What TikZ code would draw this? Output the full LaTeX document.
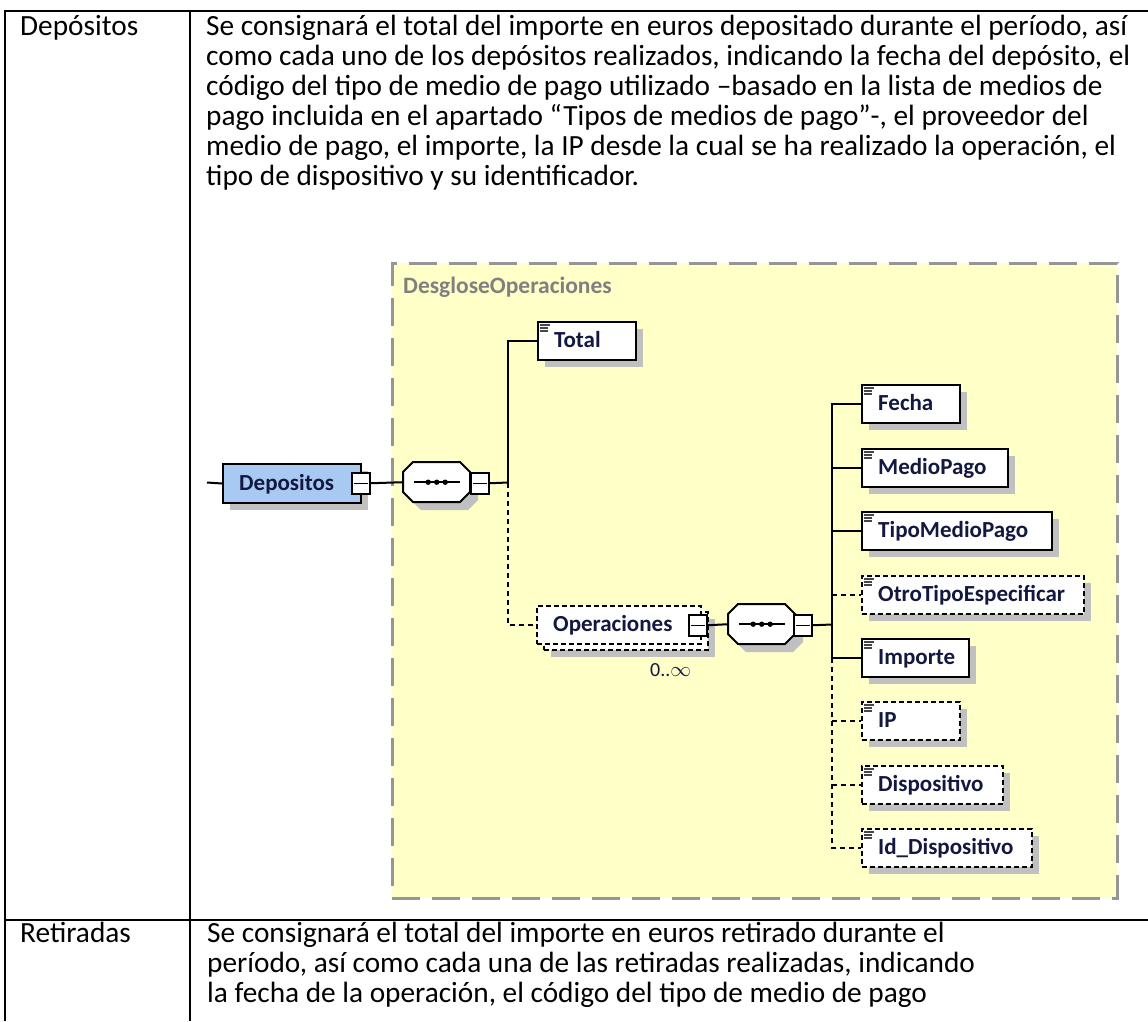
\documentclass[tikz,border=0pt]{standalone}
\usepackage{fontspec}
\setmainfont{Carlito}
\definecolor{ybg}{RGB}{255,255,200}
\definecolor{ybd}{RGB}{150,150,150}
\definecolor{shd}{RGB}{192,192,192}
\definecolor{depblue}{RGB}{168,202,242}
\definecolor{navy}{RGB}{18,24,64}
\definecolor{ttl}{RGB}{128,128,128}
\definecolor{icn}{RGB}{70,70,70}

\newcommand\xelem[7]{%
  \fill[shd] (#3+8,#4+8) rectangle (#5+8,#6+8);
  \node[#1, minimum width=#5-#3, minimum height=#6-#4, anchor=north west] (#2) at (#3,#4) {};
  \node[lbl, anchor=base west] (#2-t) at (#3+17,{(#4+#6)/2+7.5}) {#7};
}
\newcommand\xicon[2]{%
  \draw[icon] (#1+3,#2+4) -- (#1+13,#2+4) (#1+3,#2+7) -- (#1+11,#2+7) (#1+3,#2+10) -- (#1+11,#2+10);
}
\newcommand\xminus[3]{%
  \node[minusbox, anchor=north west] (#1) at (#2,#3) {};
  \draw[line width=1.4] ([xshift=3pt]#1.west) -- ([xshift=-3pt]#1.east);
}
\newcommand\xoct[4]{% l t r b
  (#1+10,#2) -- (#3-10,#2) -- (#3,#2+10) -- (#3,#4-10) -- (#3-10,#4) -- (#1+10,#4) -- (#1,#4-10) -- (#1,#2+10) -- cycle
}
\newcommand\xseq[3]{%
  \fill[shd] \xoct{#2+8}{#3+8}{#2+75}{#3+48};
  \draw[line width=2pt, fill=white] \xoct{#2}{#3}{#2+67}{#3+40};
  \node[rectangle, inner sep=0pt, minimum width=67pt, minimum height=40pt, anchor=north west] (#1) at (#2,#3) {};
  \draw[line width=1.5] ([xshift=-23pt]#1.center) -- ([xshift=23pt]#1.center);
  \foreach \d in {-8.5,0,8.5} \fill ([xshift=\d pt]#1.center) circle (2.7pt);
}

\begin{document}
\begin{tikzpicture}[x=1pt,y=-1pt,
  tbl/.style={line width=2.2pt, black},
  tx/.style={font=\fontsize{29.3}{30}\selectfont, inner sep=0pt, text=black},
  lbl/.style={font=\fontsize{23}{23}\selectfont\bfseries, text=navy, inner sep=0pt},
  elembox/.style={rectangle, draw=black, line width=2pt, fill=white, inner sep=0pt},
  optbox/.style={rectangle, draw=black, line width=2pt, fill=white, inner sep=0pt, dash pattern=on 5pt off 3pt},
  minusbox/.style={rectangle, draw=black, line width=1.5pt, fill=white, inner sep=0pt, minimum width=18pt, minimum height=21pt},
  icon/.style={line width=1.1pt, icn},
  conn/.style={line width=2pt, black},
  dconn/.style={line width=2pt, black, dash pattern=on 5pt off 4pt},
  grpbox/.style={rectangle, fill=ybg, draw=ybd, line width=2.5pt, dash pattern=on 28pt off 12pt, inner sep=0pt}
]
\useasboundingbox (0,0) rectangle (1148,1021);
\fill[white] (0,0) rectangle (1148,1021);

% table
\draw[tbl] (5,1021) -- (5,11) -- (1148,11);
\draw[tbl] (190,11) -- (190,1021);
\draw[tbl] (5,920) -- (1148,920);

\node[tx, anchor=base west] (h1) at (20,35) {Depósitos};
\node[tx, anchor=base west] (a1) at (206,35) {Se consignará el total del importe en euros depositado durante el período, así};
\node[tx, anchor=base west] (a2) at (206,65) {como cada uno de los depósitos realizados, indicando la fecha del depósito, el};
\node[tx, anchor=base west] (a3) at (206,95) {código del tipo de medio de pago utilizado –basado en la lista de medios de};
\node[tx, anchor=base west] (a4) at (206,125) {pago incluida en el apartado “Tipos de medios de pago”-, el proveedor del};
\node[tx, anchor=base west] (a5) at (206,155) {medio de pago, el importe, la IP desde la cual se ha realizado la operación, el};
\node[tx, anchor=base west] (a6) at (206,185) {tipo de dispositivo y su identificador.};

\node[tx, anchor=base west] (h2) at (20,942) {Retiradas};
\node[tx, anchor=base west] (b1) at (207,942) {Se consignará el total del importe en euros retirado durante el};
\node[tx, anchor=base west] (b2) at (207,972) {período, así como cada una de las retiradas realizadas, indicando};
\node[tx, anchor=base west] (b3) at (207,1002) {la fecha de la operación, el código del tipo de medio de pago};

% group box
\node[grpbox, minimum width=725pt, minimum height=635pt, anchor=north west] (grp) at (391,262) {};
\node[lbl, text=ttl, font=\fontsize{23.5}{23.5}\selectfont\bfseries, anchor=base west] (grp-t) at (403,293) {DesgloseOperaciones};

% Depositos
\xelem{elembox, fill=depblue}{dep}{222}{463}{360}{502}{Depositos}
\xminus{dep-m}{351}{472}

% sequence 1
\xseq{seq1}{403}{462}
\xminus{seq1-m}{470}{472}

% Total
\xelem{elembox}{total}{537}{321}{635}{359}{Total}
\xicon{537}{321}

% Operaciones (multiple)
\fill[shd] (551,619) rectangle (715,657);
\node[optbox, minimum width=164pt, minimum height=38pt, anchor=north west] (oper-stack) at (543,611) {};
\node[optbox, minimum width=164pt, minimum height=38pt, anchor=north west] (oper) at (536,605) {};
\node[lbl, anchor=base west] (oper-t) at (553,631.5) {Operaciones};
\xminus{oper-m}{688}{614}
\node[font=\fontsize{20}{20}\selectfont, text=navy, anchor=base west, inner sep=0pt] (mult) at (650,676) {0..$\infty$};

% sequence 2
\xseq{seq2}{728}{604}
\xminus{seq2-m}{793}{614}

% children
\xelem{elembox}{fecha}{861}{384}{959}{422}{Fecha}
\xicon{861}{384}
\xelem{elembox}{medio}{861}{448}{1007}{486}{MedioPago}
\xicon{861}{448}
\xelem{elembox}{tipo}{861}{511}{1051}{549}{TipoMedioPago}
\xicon{861}{511}
\xelem{optbox}{otro}{861}{575}{1083}{613}{OtroTipoEspecificar}
\xicon{861}{575}
\xelem{elembox}{importe}{861}{638}{968}{676}{Importe}
\xicon{861}{638}
\xelem{optbox}{ip}{861}{701}{959}{739}{IP}
\xicon{861}{701}
\xelem{optbox}{disp}{861}{765}{1002}{803}{Dispositivo}
\xicon{861}{765}
\xelem{optbox}{iddisp}{861}{828}{1031}{866}{Id\_Dispositivo}
\xicon{861}{828}

% connectors
\coordinate (in) at (207,482.5);
\coordinate (j1) at (508,482.5);
\coordinate (j2) at (832,624.5);
\draw[conn] (in) -- (dep.west);
\draw[conn] (dep-m.east) -- (seq1.west);
\draw[conn] (seq1-m.east) -- (j1);
\draw[conn] (j1) |- (total.west);
\draw[dconn] (j1) |- (oper.west);
\draw[conn] (oper-m.east) -- (seq2.west);
\draw[conn] (seq2-m.east) -- (j2);
\draw[conn] (j2) |- (fecha.west);
\draw[conn] (j2) |- (medio.west);
\draw[conn] (j2) |- (tipo.west);
\draw[conn] (j2) |- (importe.west);
\draw[dconn] (j2 |- otro.west) -- (otro.west);
\draw[dconn] (j2 |- importe.west) -- (j2 |- iddisp.west) -- (iddisp.west);
\draw[dconn] (j2 |- ip.west) -- (ip.west);
\draw[dconn] (j2 |- disp.west) -- (disp.west);
\end{tikzpicture}
\end{document}
